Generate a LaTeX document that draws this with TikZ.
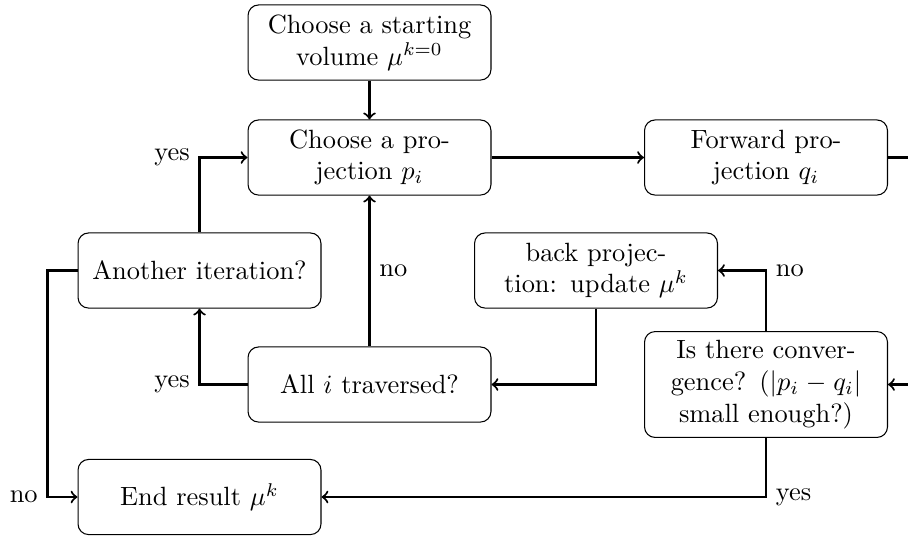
\documentclass[tikz,border=0pt]{standalone}
\begin{document}
\begin{tikzpicture}[x=0.3788pt,y=-0.3788pt,
  box/.style={draw, rounded corners=4pt, text width=3cm, minimum height=1cm, align=center},
  link/.style={thick,->}]
\useasboundingbox (0,0) rectangle (908,536);
\clip (0,0) rectangle (908,536);

% process boxes
\node[box] (start)  at (369.5,42.5) {Choose a starting volume $\mu^{k=0}$};
\node[box] (choose) at (369.5,157.5) {Choose a projection $p_i$};
\node[box] (fwd)    at (766,157.5) {Forward projection $q_i$};
\node[box] (again)  at (199.5,270.5) {Another iteration?};
\node[box] (back)   at (596,270.5) {back projection: update $\mu^k$};
\node[box] (all)    at (369.5,384.5) {All $i$ traversed?};
\node[box] (conv)   at (766,384.5) {Is there convergence? ($|p_i-q_i|$ small enough?)};
\node[box] (end)    at (199.5,497) {End result $\mu^k$};

% loop back from the forward projection into the convergence test
\coordinate (rgt) at (930,157.5);

% connectors
\draw[link] (start) -- (choose);
\draw[link] (choose) -- (fwd);
\draw[link] (fwd.east) -- (rgt) |- (conv.east);
\draw[link] (conv.north) |- (back.east) node[pos=0.5,right] {no};
\draw[link] (back.south) |- (all.east);
\draw[link] (all.north) -- (choose.south) node[midway,right] {no};
\draw[link] (all.west) -| (again.south) node[pos=0.5,left] {yes};
\draw[link] (again.north) |- (choose.west) node[pos=0.5,left] {yes};
\draw[link] (again.west) -- ++(-30,0) |- (end.west) node[pos=0.5,left] {no};
\draw[link] (conv.south) |- (end.east) node[pos=0.5,right] {yes};
\end{tikzpicture}
\end{document}
